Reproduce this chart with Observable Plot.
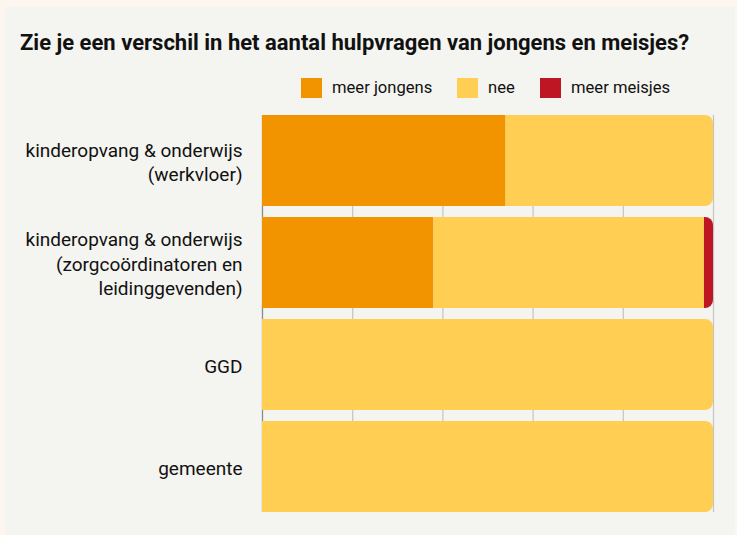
<!DOCTYPE html>
<html>
<head>
<meta charset="utf-8">
<script src="https://cdn.jsdelivr.net/npm/d3@7"></script>
<script src="https://cdn.jsdelivr.net/npm/@observablehq/plot@0.6"></script>
<style>
  html, body { margin: 0; padding: 0; }
  body { width: 737px; height: 535px; background: #fdf6ee; position: relative; overflow: hidden; font-family: Roboto, "Noto Sans", sans-serif; color: #111; }
  #panel { position: absolute; left: 5px; top: 7px; width: 730px; height: 528px; background: #f4f4f0; }
  #title { position: absolute; left: 20px; top: 30px; font-size: 22px; font-weight: 700; line-height: 26px; white-space: nowrap; }
  #legend { position: absolute; left: 301px; top: 78px; height: 20px; }
  .item { position: absolute; top: 0; display: flex; align-items: center; font-size: 16.6px; line-height: 20px; white-space: nowrap; }
  .sw { width: 21px; height: 20px; margin-right: 10px; flex: none; }
  #chart { position: absolute; left: 0; top: 100px; }
</style>
</head>
<body>
<div id="panel"></div>
<div id="title">Zie je een verschil in het aantal hulpvragen van jongens en meisjes?</div>
<div id="legend"></div>
<div id="chart"></div>
<script>
const categories = ["werkvloer", "zorgcoordinatoren", "GGD", "gemeente"];
const categoryLabels = [
  "kinderopvang & onderwijs\n(werkvloer)",
  "kinderopvang & onderwijs\n(zorgcoördinatoren en\nleidinggevenden)",
  "GGD",
  "gemeente"
];
const seriesNames = ["meer jongens", "nee", "meer meisjes"];
const seriesColors = ["#f29400", "#ffce52", "#be1622"];
const meerJongens = [54, 38, 0, 0];
const nee = [46, 60, 100, 100];
const meerMeisjes = [0, 2, 0, 0];
const xTicks = [0, 20, 40, 60, 80, 100];
const legendOffsets = [0, 156, 239];

// legend
const legend = document.getElementById("legend");
seriesNames.forEach((s, i) => {
  const it = document.createElement("div");
  it.className = "item";
  it.style.left = legendOffsets[i] + "px";
  it.innerHTML = `<div class="sw" style="background:${seriesColors[i]}"></div><span>${s}</span>`;
  legend.appendChild(it);
});

// build segments (cumulative stacking)
const valuesBySeries = [meerJongens, nee, meerMeisjes];
const segments = [];
categories.forEach((c, ci) => {
  let acc = 0;
  const rowSegs = [];
  seriesNames.forEach((s, si) => {
    const v = valuesBySeries[si][ci];
    if (v > 0) {
      rowSegs.push({category: c, series: s, x1: acc, x2: acc + v, last: false});
      acc += v;
    }
  });
  rowSegs[rowSegs.length - 1].last = true;
  segments.push(...rowSegs);
});
const labelOf = new Map(categories.map((c, i) => [c, categoryLabels[i]]));

const chart = Plot.plot({
  width: 737,
  height: 435,
  marginLeft: 262,
  marginRight: 24,
  marginTop: 15,
  marginBottom: 23,
  style: {background: "transparent", fontFamily: "Roboto, 'Noto Sans', sans-serif", color: "#111", overflow: "visible"},
  x: {domain: [0, 100], axis: null},
  y: {domain: categories, paddingInner: 0.108, paddingOuter: 0, axis: null, label: null},
  color: {domain: seriesNames, range: seriesColors},
  marks: [
    Plot.gridX(xTicks, {stroke: "#c4c4c4", strokeOpacity: 1, strokeWidth: 1.2}),
    Plot.ruleX([0], {stroke: "#8a8a8a", strokeWidth: 1.2}),
    Plot.barX(segments.filter(d => !d.last), {y: "category", x1: "x1", x2: "x2", fill: "series", inset: 0}),
    Plot.barX(segments.filter(d => d.last), {y: "category", x1: "x1", x2: "x2", fill: "series", inset: 0, rx2: 8}),
    Plot.axisY({label: null, tickSize: 0, tickPadding: 20, fontSize: 19, lineHeight: 1.28, textAnchor: "end", tickFormat: d => labelOf.get(d), fill: "#111"})
  ]
});
document.getElementById("chart").appendChild(chart);
</script>
</body>
</html>
